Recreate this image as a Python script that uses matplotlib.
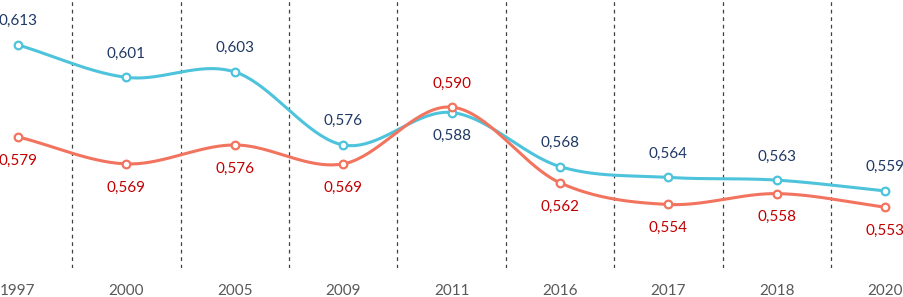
import numpy as np
import matplotlib
matplotlib.use('Agg')
import matplotlib.pyplot as plt

years = ['1997', '2000', '2005', '2009', '2011', '2016', '2017', '2018', '2020']
blue_vals = [0.613, 0.601, 0.603, 0.576, 0.588, 0.568, 0.564, 0.563, 0.559]
red_vals = [0.579, 0.569, 0.576, 0.569, 0.590, 0.562, 0.554, 0.558, 0.553]

BLUE = '#4DC3DC'
RED = '#F2735E'
BLUE_TXT = '#1F3864'
RED_TXT = '#C00000'


def smooth(xs, ys, n=40):
    """Catmull-Rom through the points, like a spreadsheet smoothed line."""
    xs = np.asarray(xs, float)
    ys = np.asarray(ys, float)
    px = np.concatenate([[2 * xs[0] - xs[1]], xs, [2 * xs[-1] - xs[-2]]])
    py = np.concatenate([[2 * ys[0] - ys[1]], ys, [2 * ys[-1] - ys[-2]]])
    out_x, out_y = [], []
    t = np.linspace(0, 1, n)
    for i in range(1, len(px) - 2):
        for p, out in ((px, out_x), (py, out_y)):
            p0, p1, p2, p3 = p[i - 1], p[i], p[i + 1], p[i + 2]
            out.extend(0.5 * (2 * p1 + (-p0 + p2) * t
                              + (2 * p0 - 5 * p1 + 4 * p2 - p3) * t ** 2
                              + (-p0 + 3 * p1 - 3 * p2 + p3) * t ** 3))
    return np.array(out_x), np.array(out_y)


plt.rcParams['font.family'] = ['Lato', 'DejaVu Sans']

fig = plt.figure(figsize=(9.04, 2.97), dpi=100)
ax = fig.add_axes([0, 0.0976, 1, 0.9024])
x = np.arange(len(years))

for b in x[:-1] + 0.5:
    ax.axvline(b, color='#404040', lw=0.9, ls=(0, (3, 3)), zorder=1)

for vals, col in ((blue_vals, BLUE), (red_vals, RED)):
    sx, sy = smooth(x, vals)
    ax.plot(sx, sy, color=col, lw=2.2, zorder=3, solid_capstyle='round')
    ax.plot(x, vals, ls='none', marker='o', ms=5.5, mfc='white',
            mec=col, mew=1.6, zorder=4)

fs = 11
for i, (bv, rv) in enumerate(zip(blue_vals, red_vals)):
    b_up = bv >= rv
    ax.annotate(f'{bv:.3f}'.replace('.', ','), (i, bv),
                xytext=(0, 17 if b_up else -17), textcoords='offset points',
                ha='center', va='center', color=BLUE_TXT, fontsize=fs)
    ax.annotate(f'{rv:.3f}'.replace('.', ','), (i, rv),
                xytext=(0, -17 if b_up else 17), textcoords='offset points',
                ha='center', va='center', color=RED_TXT, fontsize=fs)

for i, yr in enumerate(years):
    ax.text(i, -0.085, yr, transform=ax.get_xaxis_transform(),
            ha='center', va='center', color='#595959', fontsize=fs)

ax.set_xlim(-0.166, 8.173)
ax.set_ylim(0.5305, 0.6296)
ax.axis('off')

fig.savefig('out.png', dpi=100)
